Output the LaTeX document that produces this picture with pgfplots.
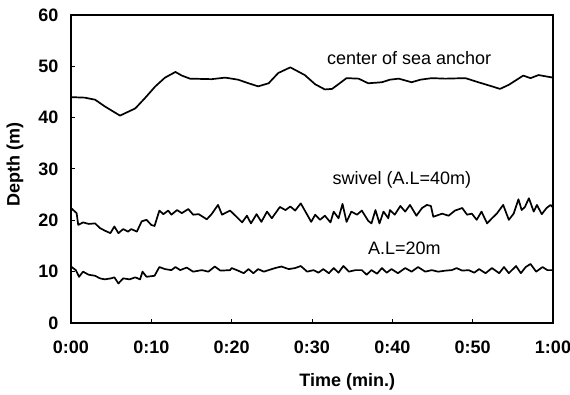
\documentclass[border=0pt]{standalone}
\usepackage{pgfplots}
\pgfplotsset{compat=1.18}
\usepackage{fontspec}
\setmainfont{Liberation Sans}
\tikzset{curve/.style={black, line width=1.7pt, line join=round, mark=none}}
\begin{document}
\begin{tikzpicture}
\path[use as bounding box] (0,0) rectangle (570pt,395pt);
\begin{axis}[
  scale only axis, width=482pt, height=308pt,
  at={(71pt,72pt)}, anchor=south west,
  xmin=0, xmax=60, ymin=0, ymax=60,
  xtick={0,10,20,30,40,50,60},
  xticklabels={0:00,0:10,0:20,0:30,0:40,0:50,1:00},
  ytick={0,10,20,30,40,50,60},
  tick align=inside, tick pos=left,
  major tick length=4pt,
  axis line style={line width=1.4pt},
  tick style={line width=1pt, black},
  /pgf/number format/assume math mode=true,
  ticklabel style={font=\fontsize{18}{20}\selectfont\bfseries},
  xticklabel style={yshift=-14pt},
  yticklabel style={xshift=-9pt},
  xlabel={Time (min.)},
  ylabel={Depth (m)},
  label style={font=\fontsize{18}{20}\selectfont\bfseries},
  xlabel style={at={(axis description cs:0.573,-0.192)}, anchor=center},
  ylabel style={at={(axis description cs:-0.116,0.516)}, anchor=center},
  clip=false,
]
% center of sea anchor
\addplot[curve] coordinates {
(0,44.0)(1.7,43.9)(3.0,43.5)(4.2,42.2)(6.1,40.4)(8.0,41.8)(9.2,43.8)(10.5,46.1)(11.7,47.8)(13.0,48.9)(13.8,48.2)(14.8,47.6)(17.5,47.5)(19.2,47.8)(20.8,47.4)(22.1,46.7)(23.3,46.1)(24.6,46.7)(25.8,48.7)(27.3,49.8)(29.1,48.3)(30.4,46.5)(31.6,45.5)(32.5,45.6)(34.3,47.7)(35.8,47.6)(37.0,46.7)(38.7,46.9)(39.7,47.4)(40.8,47.6)(42.4,46.9)(43.5,47.4)(44.9,47.7)(46.6,47.6)(49.1,47.7)(50.7,46.9)(52.4,46.1)(53.4,45.6)(54.5,46.4)(56.3,48.2)(57.2,47.7)(58.2,48.3)(60,47.8)
};
% swivel
\addplot[curve] coordinates {
(0,22.4)(0.7,21.4)(0.9,19.1)(1.5,19.6)(2.2,19.3)(3.0,19.4)(3.6,18.5)(4.2,18.0)(4.9,17.5)(5.4,18.8)(5.9,17.5)(6.5,18.3)(7.1,17.8)(7.5,18.3)(8.2,17.8)(8.8,19.8)(9.4,20.1)(10.0,19.1)(10.4,18.9)(11.0,21.9)(11.5,21.2)(12.1,21.9)(12.5,21.1)(13.2,22.0)(13.8,21.4)(14.6,22.2)(15.2,21.1)(15.9,21.2)(16.9,20.2)(17.5,21.2)(18.3,23.0)(18.8,21.1)(19.8,21.9)(20.6,20.7)(21.3,19.6)(21.9,20.9)(22.4,19.4)(23.1,21.2)(23.7,19.7)(24.4,21.7)(25.0,20.4)(26.0,22.6)(26.7,22.0)(27.3,22.7)(27.9,21.9)(28.6,23.3)(29.4,21.1)(29.9,19.7)(30.4,21.1)(31.0,20.1)(31.6,20.9)(32.3,19.6)(32.7,21.7)(33.3,20.4)(33.8,23.2)(34.3,19.7)(34.9,21.7)(35.6,21.1)(36.2,21.9)(37.0,19.9)(37.4,19.4)(37.9,22.0)(38.4,19.4)(38.9,21.7)(39.5,20.4)(39.7,22.0)(40.3,21.1)(41.0,22.8)(41.6,21.7)(42.2,23.0)(43.0,20.9)(43.7,22.4)(44.3,23.0)(44.8,22.8)(45.1,20.7)(46.2,21.3)(47.0,20.9)(47.8,21.9)(48.7,22.4)(49.3,21.1)(49.9,21.3)(50.5,20.1)(51.1,21.7)(51.8,19.4)(52.4,20.4)(53.0,21.3)(53.8,23.0)(54.5,20.1)(55.1,21.3)(55.7,24.1)(56.1,22.0)(56.5,22.6)(57.0,24.3)(57.6,21.7)(58.0,23.0)(58.6,21.2)(59.2,22.4)(59.7,23.0)(60,22.5)
};
% A.L=20m
\addplot[curve] coordinates {
(0,11.0)(0.6,10.3)(1.0,9.0)(1.5,10.0)(2.2,9.4)(3.0,9.2)(3.6,8.7)(4.2,8.5)(5.0,8.7)(5.4,8.9)(5.9,7.7)(6.5,8.7)(7.3,8.5)(8.0,8.9)(8.6,8.5)(8.9,10.0)(9.4,9.0)(10.4,9.2)(11.0,10.9)(11.7,10.5)(12.5,10.3)(13.0,10.9)(13.6,10.3)(14.4,10.8)(15.2,10.0)(16.3,10.3)(17.1,10.0)(17.9,11.0)(18.6,10.2)(19.8,10.3)(20.0,10.7)(20.8,10.2)(21.5,9.7)(22.1,10.5)(22.7,9.7)(23.3,10.5)(24.0,10.0)(24.6,10.3)(25.4,10.7)(26.2,11.0)(27.1,10.5)(27.9,10.7)(28.6,11.1)(29.4,10.0)(30.2,10.3)(30.8,9.8)(31.4,10.5)(32.1,9.7)(32.7,10.7)(33.3,9.8)(33.9,11.1)(34.6,10.0)(35.4,10.3)(36.2,10.3)(36.8,9.4)(37.4,10.3)(38.1,9.6)(38.7,10.7)(39.3,9.8)(39.9,10.5)(40.7,9.7)(41.6,10.7)(42.4,10.0)(43.2,10.9)(44.1,10.0)(44.9,10.3)(45.7,10.0)(46.6,10.2)(47.4,10.3)(48.0,10.7)(48.7,10.2)(49.5,10.3)(50.2,9.8)(50.8,10.5)(51.6,9.7)(52.4,10.7)(53.3,9.7)(53.9,10.9)(54.5,9.7)(55.4,11.1)(56.0,9.7)(56.6,10.9)(57.2,11.5)(57.9,10.0)(58.7,10.9)(59.3,10.3)(60,10.3)
};
\node[font=\fontsize{18}{20}\selectfont] at (axis cs:42.1,51.7) {center of sea anchor};
\node[font=\fontsize{18}{20}\selectfont] at (axis cs:41.2,27.9) {swivel (A.L=40m)};
\node[font=\fontsize{18}{20}\selectfont] at (axis cs:41.5,14.6) {A.L=20m};
\end{axis}
\end{tikzpicture}
\end{document}
